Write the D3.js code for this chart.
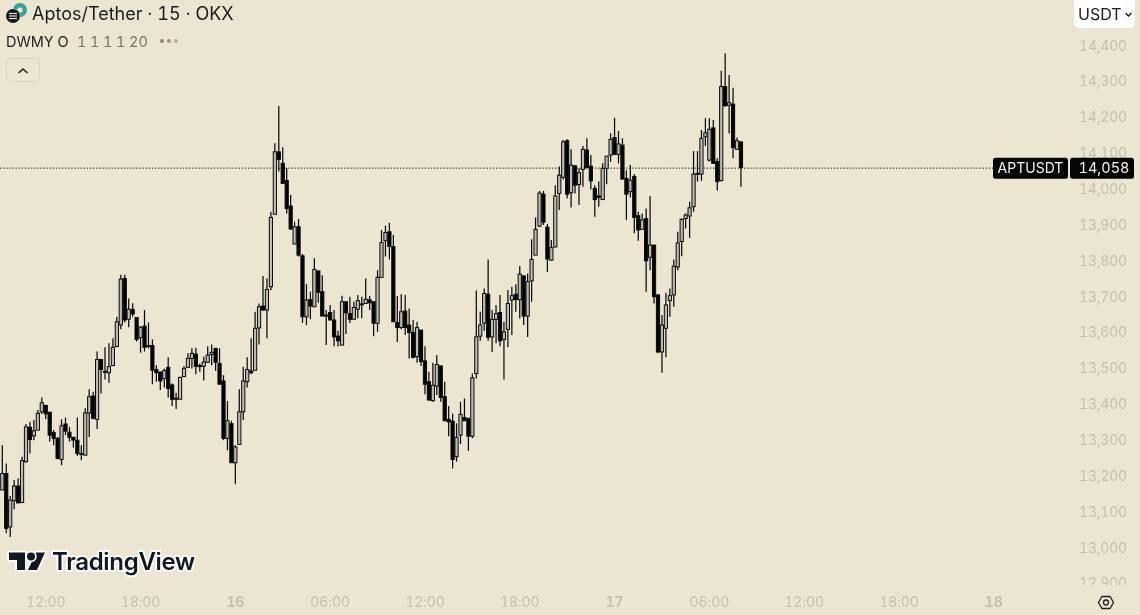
<!DOCTYPE html>
<html><head><meta charset="utf-8">
<script src="https://cdnjs.cloudflare.com/ajax/libs/d3/7.8.5/d3.min.js"></script>
<style>
html,body{margin:0;padding:0;background:#ebe5d1;overflow:hidden}
svg{display:block;font-family:Inter,"Noto Sans",sans-serif;font-variant-numeric:tabular-nums}
</style></head><body><div id="chart"></div>
<script>
const title = "Aptos/Tether · 15 · OKX";
const pairTag = "APTUSDT";
const lastPrice = 14058;
const startTime = "2023-10-15T09:15:00Z";
const barMinutes = 15;
const priceTicks = [14400,14300,14200,14100,14000,13900,13800,13700,13600,13500,13400,13300,13200,13100,13000,12900];
const timeTicks = [
 ["2023-10-15T12:00:00Z","12:00",0],["2023-10-15T18:00:00Z","18:00",0],["2023-10-16T00:00:00Z","16",1],
 ["2023-10-16T06:00:00Z","06:00",0],["2023-10-16T12:00:00Z","12:00",0],["2023-10-16T18:00:00Z","18:00",0],
 ["2023-10-17T00:00:00Z","17",1],["2023-10-17T06:00:00Z","06:00",0],["2023-10-17T12:00:00Z","12:00",0],
 ["2023-10-17T18:00:00Z","18:00",0],["2023-10-18T00:00:00Z","18",1]];
const opens = [13159,13205,13056,13129,13170,13124,13238,13334,13310,13326,13377,13395,13376,13319,13303,13244,13343,13320,13306,13298,13258,13256,13374,13421,13356,13523,13488,13486,13506,13559,13619,13749,13635,13663,13640,13584,13616,13562,13562,13495,13488,13470,13501,13452,13415,13412,13475,13501,
13526,13538,13506,13504,13515,13537,13554,13512,13463,13303,13344,13235,13286,13377,13461,13491,13493,13611,13672,13661,13726,13928,14102,14070,14022,13951,13845,13893,13812,13642,13690,13670,13770,13712,13647,13654,13633,13588,13563,13684,13651,13635,13663,13678,13679,13689,13684,13624,
13752,13854,13879,13838,13626,13612,13658,13619,13598,13531,13605,13519,13461,13408,13449,13505,13419,13356,13351,13252,13312,13361,13359,13309,13484,13588,13624,13705,13586,13635,13654,13579,13607,13689,13705,13690,13756,13644,13742,13814,
13895,13984,13892,13800,13837,13986,14031,14133,13988,14063,14011,14053,14107,14062,14000,13979,13969,14056,14093,14142,14095,14121,14028,13991,14033,13924,13886,13916,13808,13842,13703,13544,13610,13687,13703,13781,13852,13916,13923,13949,14042,14040,14144,14079,14169,14075,14022,14284,14232,14235,14109,14130];
const highs = [13284,13233,13142,13187,13191,13252,13343,13349,13354,13382,13417,13395,13376,13326,13307,13356,13361,13335,13307,13361,13284,13387,13440,13433,13545,13523,13557,13568,13582,13642,13759,13759,13693,13680,13640,13616,13661,13626,13579,13507,13489,13498,13529,13456,13430,13475,13505,13540,
13554,13556,13512,13531,13560,13565,13554,13554,13479,13407,13352,13284,13440,13503,13529,13582,13656,13679,13756,13749,13935,14126,14230,14115,14056,13982,13907,13915,13817,13733,13712,13805,13770,13758,13661,13675,13661,13603,13701,13684,13698,13684,13703,13698,13749,13700,13684,13772,
13884,13896,13904,13870,13700,13705,13703,13665,13633,13628,13605,13560,13489,13514,13535,13505,13461,13393,13372,13345,13405,13414,13359,13484,13715,13656,13721,13802,13661,13675,13703,13628,13717,13726,13733,13784,13758,13763,13858,13919,
13993,13993,13901,13856,14009,14061,14135,14137,14109,14065,14056,14118,14140,14093,14009,14019,14070,14090,14154,14197,14160,14140,14051,14065,14040,13935,13930,13944,13979,13842,13705,13647,13709,13721,13802,13879,13916,13930,13963,14104,14104,14163,14197,14196,14191,14084,14328,14377,14316,14281,14142,14130];
const lows = [13159,13038,13028,13105,13123,13124,13235,13261,13298,13326,13371,13356,13294,13284,13245,13228,13312,13294,13277,13254,13242,13256,13307,13356,13329,13428,13467,13458,13506,13559,13607,13626,13613,13642,13573,13542,13545,13554,13454,13461,13438,13445,13417,13393,13385,13412,13475,13501,
13498,13482,13489,13464,13515,13507,13491,13454,13298,13270,13235,13175,13286,13354,13445,13482,13493,13565,13659,13582,13716,13928,14047,14014,13930,13884,13845,13810,13625,13619,13635,13670,13681,13644,13563,13633,13560,13559,13563,13594,13625,13635,13638,13638,13679,13661,13588,13600,
13752,13810,13802,13628,13572,13607,13591,13526,13526,13514,13505,13426,13408,13405,13424,13405,13352,13309,13219,13238,13287,13352,13268,13303,13470,13575,13603,13575,13544,13568,13560,13467,13557,13591,13656,13637,13619,13586,13684,13814,
13892,13898,13767,13798,13835,13940,14025,13972,13947,13986,13954,14005,14056,13997,13921,13949,13969,14012,14074,14093,14070,14026,13912,13975,13875,13854,13886,13712,13772,13679,13540,13486,13529,13642,13670,13772,13811,13888,13862,13935,14019,14021,14118,14075,14068,13994,14019,14230,14153,14084,14109,14005];
const closes = [13205,13052,13131,13170,13123,13241,13335,13300,13324,13373,13402,13371,13312,13303,13247,13338,13323,13306,13298,13261,13261,13374,13419,13359,13523,13495,13490,13503,13557,13628,13747,13633,13663,13650,13579,13613,13557,13560,13493,13486,13463,13492,13442,13412,13413,13473,13498,13526,
13540,13504,13503,13516,13535,13543,13515,13454,13303,13352,13235,13279,13377,13463,13495,13486,13610,13670,13661,13718,13919,14102,14081,14014,13944,13887,13893,13814,13642,13689,13672,13774,13710,13644,13644,13633,13586,13575,13684,13653,13635,13668,13687,13676,13691,13681,13624,13752,
13849,13877,13838,13628,13612,13656,13612,13598,13529,13612,13517,13454,13410,13451,13509,13417,13352,13349,13244,13306,13370,13352,13309,13472,13586,13619,13707,13585,13635,13651,13575,13600,13679,13701,13690,13761,13644,13740,13802,13886,
13987,13906,13803,13835,13979,14037,14130,13984,14065,14009,14044,14109,14058,14021,13969,13975,14056,14090,14137,14095,14124,14026,13984,14023,13919,13884,13912,13798,13842,13698,13544,13619,13675,13701,13783,13848,13914,13926,13946,14040,14039,14140,14155,14165,14070,14019,14284,14230,14239,14114,14133,14058];

const W=1140,H=615,bg="#ebe5d1",axisCol="#c4c0b2",ink="#0b0b0d";
const svg=d3.select("#chart").append("svg").attr("width",W).attr("height",H).style("filter","blur(0.3px)");
svg.append("rect").attr("width",W).attr("height",H).attr("fill",bg);
svg.append("defs").append("clipPath").attr("id","pa").append("rect").attr("x",0).attr("y",0).attr("width",W).attr("height",585);

const t0=new Date(startTime);
const barTime=i=>new Date(+t0+i*barMinutes*60000);
const x=d3.scaleUtc().domain([t0,barTime(187)]).range([2.3,740.95]);
const y=d3.scaleLinear().domain([14400,13000]).range([45,547]);
const bars=d3.range(opens.length).map(i=>({t:barTime(i),o:opens[i],h:highs[i],l:lows[i],c:closes[i]}));

// price axis
svg.append("g").attr("clip-path","url(#pa)")
  .call(g=>g.append("g").attr("transform","translate(1127,0)")
    .call(d3.axisRight(y).tickValues(priceTicks).tickSize(0).tickPadding(0).tickFormat(d3.format(",")))
    .call(a=>a.select(".domain").remove())
    .call(a=>a.selectAll("text").attr("text-anchor","end").attr("fill",axisCol).attr("font-size",14).attr("letter-spacing","-0.2").attr("font-family","Inter,sans-serif").attr("dy","0.36em")));

// time axis
svg.append("g").selectAll("text").data(timeTicks).join("text")
  .attr("x",d=>x(new Date(d[0]))).attr("y",607).attr("text-anchor","middle")
  .attr("font-size",14).attr("letter-spacing","-0.1").attr("font-weight",d=>d[2]?700:400).attr("fill",axisCol).text(d=>d[1]);

// last price line
svg.append("line").attr("x1",0).attr("x2",993).attr("y1",y(lastPrice)+.5).attr("y2",y(lastPrice)+.5)
  .attr("stroke","#111").attr("stroke-width",1).attr("stroke-dasharray","1.3 1.8");

// candles
const cg=svg.append("g");
cg.selectAll("line.w").data(bars).join("line").attr("class","w")
  .attr("x1",d=>x(d.t)).attr("x2",d=>x(d.t)).attr("y1",d=>y(d.h)).attr("y2",d=>y(d.l))
  .attr("stroke",ink).attr("stroke-width",1.25);
cg.selectAll("rect.b").data(bars).join("rect").attr("class","b")
  .attr("x",d=>x(d.t)-1.6).attr("width",3.2)
  .attr("y",d=>y(Math.max(d.o,d.c))).attr("height",d=>Math.max(1,Math.abs(y(d.o)-y(d.c))))
  .attr("fill",d=>d.c>=d.o?"#bdbab0":"#000").attr("stroke",ink).attr("stroke-width",1);

// header
const tg=svg.append("g");
tg.append("text").attr("x",32).attr("y",20).attr("font-size",18).attr("fill","#1c1c20").text(title);
tg.append("circle").attr("cx",20).attr("cy",10).attr("r",7).attr("fill","#2ea79b");
tg.append("circle").attr("cx",20).attr("cy",10).attr("r",2.6).attr("fill",bg);
tg.append("circle").attr("cx",13).attr("cy",16).attr("r",7.5).attr("fill",bg);
tg.append("circle").attr("cx",13).attr("cy",16).attr("r",7).attr("fill","#17171a");
[13.5,16,18.5].forEach(v=>tg.append("line").attr("x1",9).attr("x2",17).attr("y1",v).attr("y2",v).attr("stroke","#ddd").attr("stroke-width",1.2));

svg.append("text").attr("x",6).attr("y",47).attr("font-size",14.5).attr("fill","#222").text("DWMY O");
svg.append("text").attr("x",77).attr("y",47).attr("font-size",14.5).attr("word-spacing","-0.3px").attr("fill","#77746a").text("1 1 1 1 20");
[[162,"#8c897e"],[169,"#9a978c"],[176,"#b5b2a6"]].forEach(d=>svg.append("circle").attr("cx",d[0]).attr("cy",41).attr("r",2).attr("fill",d[1]));

// collapse button
svg.append("rect").attr("x",6.5).attr("y",58.5).attr("width",33).attr("height",23).attr("rx",4).attr("fill","none").attr("stroke","#d9d4c4");
svg.append("path").attr("d","M18.5 73 L23 69 L27.5 73").attr("fill","none").attr("stroke","#222").attr("stroke-width",1.6);

// currency button
svg.append("rect").attr("x",1074).attr("y",-4).attr("width",61).attr("height",32).attr("rx",5).attr("fill","#fff");
svg.append("text").attr("x",1078).attr("y",20).attr("font-size",16).attr("fill","#1c1c20").text("USDT");
svg.append("path").attr("d","M1125.5 13 L1128.5 16 L1131.5 13").attr("fill","none").attr("stroke","#1c1c20").attr("stroke-width",1.4);

// last price tags
const yl=y(lastPrice)+.5;
svg.append("rect").attr("x",993).attr("y",yl-10.5).attr("width",75).attr("height",21).attr("rx",2.5).attr("fill","#050505");
svg.append("rect").attr("x",1070).attr("y",yl-10.5).attr("width",64).attr("height",21).attr("rx",2.5).attr("fill","#050505");
svg.append("text").attr("x",1030.5).attr("y",yl+5).attr("text-anchor","middle").attr("font-size",14).attr("fill","#f4f2ea").text(pairTag);
svg.append("text").attr("x",1104).attr("y",yl+5).attr("text-anchor","middle").attr("font-size",14.5).attr("fill","#f4f2ea").text(d3.format(",")(lastPrice));

// TradingView mark
const wm=svg.append("g");
const halo=s=>s.attr("stroke","#fff").attr("stroke-width",3.5).attr("paint-order","stroke").attr("stroke-linejoin","round");
halo(wm.append("path").attr("d","M9 552.5 H25 V570 H17 V560 H9 Z M36 552.5 H45 L37 570 H28 Z").attr("fill","#131722"));
halo(wm.append("circle").attr("cx",31).attr("cy",556.5).attr("r",4).attr("fill","#131722"));
halo(wm.append("text").attr("x",52).attr("y",570).attr("font-size",24).attr("font-weight",600).attr("letter-spacing","-0.3").attr("fill","#131722").text("TradingView"));

// settings icon
svg.append("path").attr("d","M1098.5 602.5 L1102 596.5 H1110 L1113.5 602.5 L1110 608.5 H1102 Z").attr("fill","none").attr("stroke","#222").attr("stroke-width",1.3);
svg.append("circle").attr("cx",1106).attr("cy",602.5).attr("r",2.5).attr("fill","none").attr("stroke","#222").attr("stroke-width",1.3);
</script></body></html>
